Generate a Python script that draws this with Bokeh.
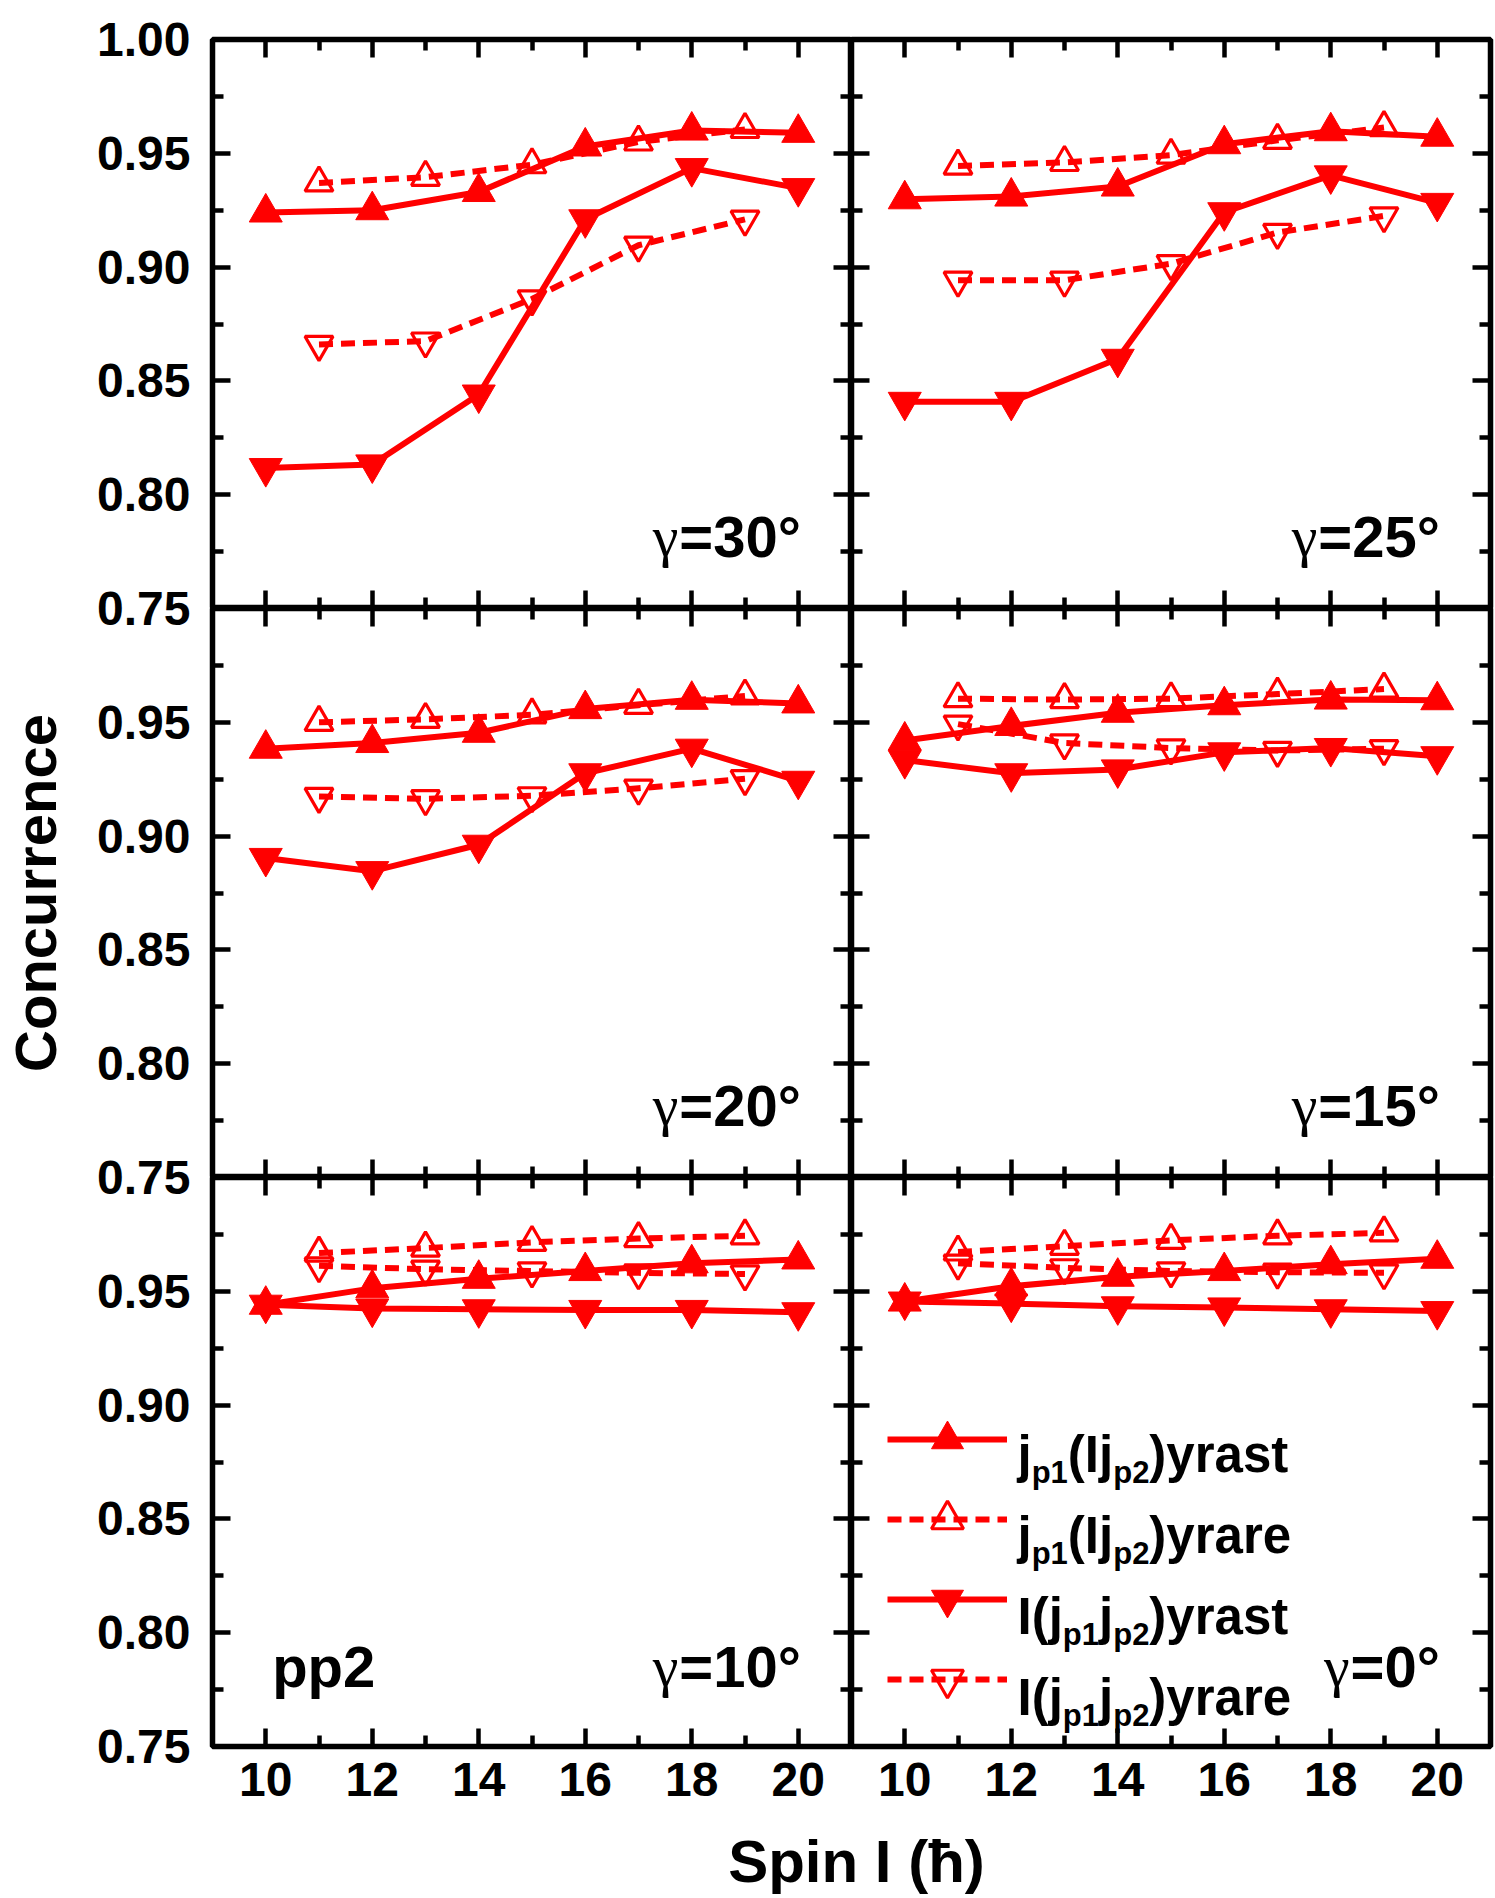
import math
from bokeh.plotting import figure
from bokeh.models import (Range1d, LinearAxis, FixedTicker, CustomJSTickFormatter, Label,
                          Legend, LegendItem, ColumnDataSource)
from bokeh.layouts import column, row
from bokeh.embed import file_html
from bokeh.resources import INLINE

# ---------------- data ----------------
spin_yrast = [10, 12, 14, 16, 18, 20]
spin_yrare = [11, 13, 15, 17, 19]

g30_jp1_yrast = [0.924, 0.925, 0.933, 0.953, 0.960, 0.959]
g30_jp1_yrare = [0.937, 0.9395, 0.945, 0.955, 0.9605]
g30_I_yrast = [0.8117, 0.8133, 0.844, 0.921, 0.9435, 0.9347]
g30_I_yrare = [0.866, 0.8675, 0.886, 0.9096, 0.921]

g25_jp1_yrast = [0.9298, 0.931, 0.9354, 0.954, 0.9597, 0.9573]
g25_jp1_yrare = [0.9444, 0.946, 0.9492, 0.9557, 0.9613]
g25_I_yrast = [0.8408, 0.8408, 0.8597, 0.9241, 0.9403, 0.9282]
g25_I_yrare = [0.8942, 0.8942, 0.9015, 0.9152, 0.9225]

g20_jp1_yrast = [0.9384, 0.9409, 0.9454, 0.9558, 0.9599, 0.9583]
g20_jp1_yrare = [0.950, 0.9513, 0.9533, 0.9575, 0.9616]
g20_I_yrast = [0.8904, 0.8846, 0.8962, 0.9276, 0.9384, 0.9243]
g20_I_yrare = [0.9174, 0.9164, 0.9177, 0.921, 0.9252]

g15_jp1_yrast = [0.942, 0.9484, 0.9542, 0.9575, 0.960, 0.9597]
g15_jp1_yrare = [0.9604, 0.960, 0.9604, 0.9624, 0.9646]
g15_I_yrast = [0.9334, 0.9276, 0.9293, 0.9368, 0.9387, 0.9351]
g15_I_yrare = [0.9492, 0.9409, 0.9387, 0.9376, 0.9384]

g10_jp1_yrast = [0.9441, 0.9513, 0.9555, 0.9589, 0.9623, 0.964]
g10_jp1_yrare = [0.9668, 0.969, 0.9715, 0.9732, 0.9744]
g10_I_yrast = [0.9441, 0.9424, 0.9421, 0.9418, 0.9418, 0.9408]
g10_I_yrare = [0.9612, 0.9597, 0.9589, 0.9581, 0.9576]

g0_jp1_yrast = [0.9455, 0.9522, 0.9564, 0.9589, 0.9619, 0.9643]
g0_jp1_yrare = [0.9673, 0.9698, 0.9724, 0.9744, 0.9757]
g0_I_yrast = [0.9455, 0.9446, 0.9434, 0.9429, 0.9421, 0.9413]
g0_I_yrare = [0.9623, 0.9603, 0.9589, 0.9584, 0.9581]

gamma_labels = ["30", "25", "20", "15", "10", "0"]
panel_series = [
    (g30_jp1_yrast, g30_jp1_yrare, g30_I_yrast, g30_I_yrare),
    (g25_jp1_yrast, g25_jp1_yrare, g25_I_yrast, g25_I_yrare),
    (g20_jp1_yrast, g20_jp1_yrare, g20_I_yrast, g20_I_yrare),
    (g15_jp1_yrast, g15_jp1_yrare, g15_I_yrast, g15_I_yrare),
    (g10_jp1_yrast, g10_jp1_yrare, g10_I_yrast, g10_I_yrare),
    (g0_jp1_yrast, g0_jp1_yrare, g0_I_yrast, g0_I_yrare),
]

x_major = [10, 12, 14, 16, 18, 20]
x_minor = [11, 13, 15, 17, 19]
y_major = [0.75, 0.80, 0.85, 0.90, 0.95, 1.00]
y_minor = [0.775, 0.825, 0.875, 0.925, 0.975]
Y_LO, Y_HI = 0.75, 1.00
N_ROWS = 3

legend_pieces = [
    [("j", 0), ("p1", 1), ("(Ij", 0), ("p2", 1), (")yrast", 0)],
    [("j", 0), ("p1", 1), ("(Ij", 0), ("p2", 1), (")yrare", 0)],
    [("I(j", 0), ("p1", 1), ("j", 0), ("p2", 1), (")yrast", 0)],
    [("I(j", 0), ("p1", 1), ("j", 0), ("p2", 1), (")yrare", 0)],
]

# ---------------- style ----------------
RED = "#ff0000"
FONT = "Liberation Sans"
FRAME_W, FRAME_H = 639, 569
YLAB_W = 209          # width of the strip that carries the shared y tick labels
TOP_B, BOTTOM_B = 39, 72

# Arial/Liberation Sans Bold advance widths (per 1000 em)
W = {'j': 278, 'p': 611, '1': 556, '2': 556, '(': 333, ')': 333, 'I': 278, 'y': 556,
     'r': 389, 'a': 556, 's': 556, 't': 333, 'e': 556, '=': 584, '0': 556, '3': 556,
     '5': 556, '°': 400}


def tw(s, size):
    return sum(W.get(ch, 556) for ch in s) * size / 1000.0


def add_axes(p, show_x):
    specs = [("left", 9, "y"), ("right", 21, "y"), ("above", Y_HI, "x"), ("below", Y_LO, "x")]
    for side, loc, dim in specs:
        if dim == "y":
            ticker = FixedTicker(ticks=y_major, minor_ticks=y_minor)
        else:
            ticker = FixedTicker(ticks=x_major, minor_ticks=x_minor)
        labeled = (side == "below" and show_x)
        kw = dict(ticker=ticker, axis_line_color=None,
                  major_tick_in=18, major_tick_out=0, minor_tick_in=11, minor_tick_out=0,
                  major_tick_line_width=4.5, minor_tick_line_width=4.5,
                  major_tick_line_color="black", minor_tick_line_color="black")
        if not labeled:
            kw["fixed_location"] = loc
        ax = LinearAxis(**kw)
        if labeled:
            ax.major_label_text_font = FONT
            ax.major_label_text_font_style = "bold"
            ax.major_label_text_font_size = "48px"
            ax.major_label_text_color = "black"
            ax.major_label_standoff = 16
        else:
            ax.major_label_text_color = None
        p.add_layout(ax, side)


def draw_series(p, xs, ys, marker, filled, dashed):
    src = ColumnDataSource(dict(x=xs, y=ys))
    lr = p.line("x", "y", source=src, line_color=RED, line_width=6,
                line_dash="14 8" if dashed else "solid", line_join="round")
    if filled:
        sr = p.scatter("x", "y", source=src, marker=marker, size=33,
                       fill_color=RED, line_color=RED, line_width=1)
    else:
        sr = p.scatter("x", "y", source=src, marker=marker, size=28,
                       fill_color=None, line_color=RED, line_width=3.2)
    return lr, sr


rows = []
idx = 0
bottom_right = None
bottom_right_renderers = None
for r in range(N_ROWS):
    figs = []
    for c in range(2):
        p = figure(frame_width=FRAME_W, frame_height=FRAME_H,
                   x_range=Range1d(9, 21), y_range=Range1d(Y_LO, Y_HI),
                   x_axis_location=None, y_axis_location=None,
                   toolbar_location=None, output_backend="svg", title=None,
                   min_border_left=3 if c == 0 else 0,
                   min_border_right=4 if c == 1 else 0,
                   min_border_top=TOP_B if r == 0 else 0,
                   min_border_bottom=BOTTOM_B if r == N_ROWS - 1 else 0)
        p.xgrid.visible = False
        p.ygrid.visible = False
        p.outline_line_color = "black"
        p.outline_line_width = 5.5
        add_axes(p, show_x=(r == N_ROWS - 1))

        jy, jr, iy, ir = panel_series[idx]
        r1 = draw_series(p, spin_yrast, jy, "triangle", True, False)
        r2 = draw_series(p, spin_yrare, jr, "triangle", False, True)
        r3 = draw_series(p, spin_yrast, iy, "inverted_triangle", True, False)
        r4 = draw_series(p, spin_yrare, ir, "inverted_triangle", False, True)

        # gamma label
        ly = 0.785 if r == N_ROWS - 1 else 0.7815
        rest = "=" + gamma_labels[idx] + "°"
        p.add_layout(Label(x=20.05, y=ly, text=rest, text_align="right",
                           text_baseline="alphabetic", text_font=FONT,
                           text_font_style="bold", text_font_size="58px",
                           text_color="black"))
        p.add_layout(Label(x=20.05, y=ly, x_offset=-tw(rest, 58) - 1, text="γ",
                           text_align="right", text_baseline="alphabetic",
                           text_font="Liberation Serif", text_font_size="58px",
                           text_color="black"))
        if r == N_ROWS - 1 and c == 0:
            p.add_layout(Label(x=10.12, y=0.785, text="pp2", text_align="left",
                               text_baseline="alphabetic", text_font=FONT,
                               text_font_style="bold", text_font_size="58px",
                               text_color="black"))
        if r == N_ROWS - 1 and c == 1:
            bottom_right = p
            bottom_right_renderers = [r1, r2, r3, r4]
        figs.append(p)
        idx += 1
    rows.append(row(*figs))

# legend (glyph samples) + rich labels
items = [LegendItem(label=" ", renderers=list(rr)) for rr in bottom_right_renderers]
legend = Legend(items=items, location=(36, 27), glyph_width=120, glyph_height=80,
                label_height=80, label_width=0, label_standoff=0, spacing=0, padding=0,
                margin=0, border_line_color=None, background_fill_alpha=0,
                label_text_font_size="12px")
bottom_right.add_layout(legend, "center")

legend_base = [292, 211, 130, 49]
for i, pieces in enumerate(legend_pieces):
    xcur = 166.0
    for txt, sub in pieces:
        size = 31 if sub else 51
        yb = legend_base[i] - (18 if sub else 0)
        bottom_right.add_layout(Label(x=xcur, y=yb, x_units="screen", y_units="screen",
                                      text=txt, text_align="left", text_baseline="alphabetic",
                                      text_font=FONT, text_font_style="bold",
                                      text_font_size="%dpx" % size, text_color="black"))
        xcur += tw(txt, size)

# shared y tick-label strip: one tall axis covering the three stacked panels
span = Y_HI - Y_LO
stack_ticks = []
for k in range(N_ROWS):
    for v in y_major:
        if k > 0 and v == Y_HI:
            continue
        stack_ticks.append(round((N_ROWS - 1 - k) * span + (v - Y_LO), 4))
yfig = figure(frame_width=1, frame_height=FRAME_H * N_ROWS,
              x_range=Range1d(0, 1), y_range=Range1d(0, N_ROWS * span),
              x_axis_location=None, y_axis_location=None, toolbar_location=None,
              output_backend="svg", title=None,
              min_border_left=YLAB_W - 1, min_border_right=0,
              min_border_top=TOP_B, min_border_bottom=BOTTOM_B)
yfig.xgrid.visible = False
yfig.ygrid.visible = False
yfig.outline_line_color = None
yax = LinearAxis(ticker=FixedTicker(ticks=stack_ticks), axis_line_color=None,
                 major_tick_in=0, major_tick_out=0, minor_tick_in=0, minor_tick_out=0,
                 formatter=CustomJSTickFormatter(code="""
                     const n = Math.round(tick * 100);
                     if (n >= 75) return '1.00';
                     return ((75 + (n % 25)) / 100).toFixed(2);
                 """),
                 major_label_text_font=FONT, major_label_text_font_style="bold",
                 major_label_text_font_size="48px", major_label_text_color="black",
                 major_label_standoff=18,
                 axis_label="Concurrence", axis_label_text_font=FONT,
                 axis_label_text_font_style="bold", axis_label_text_font_size="58px",
                 axis_label_text_color="black", axis_label_standoff=26)
yfig.add_layout(yax, "left")

# x-axis title strip (an axis with no ticks carrying the shared title)
xlab = figure(frame_width=1268, frame_height=1,
              x_range=Range1d(0, 1), y_range=Range1d(0, 1),
              x_axis_location=None, y_axis_location=None, toolbar_location=None,
              output_backend="svg", title=None,
              min_border_left=222, min_border_right=4, min_border_top=0, min_border_bottom=0)
xlab.xgrid.visible = False
xlab.ygrid.visible = False
xlab.outline_line_color = None
xax = LinearAxis(ticker=FixedTicker(ticks=[]), axis_line_color=None,
                 major_tick_out=0, minor_tick_out=0, major_tick_in=0, minor_tick_in=0,
                 major_label_text_color=None,
                 axis_label="Spin I (ħ)", axis_label_text_font=FONT,
                 axis_label_text_font_style="bold", axis_label_text_font_size="60px",
                 axis_label_text_color="black", axis_label_standoff=8)
xlab.add_layout(xax, "below")

layout = column(row(yfig, column(*rows)), xlab)
open("out.html", "w").write(file_html(layout, INLINE))
